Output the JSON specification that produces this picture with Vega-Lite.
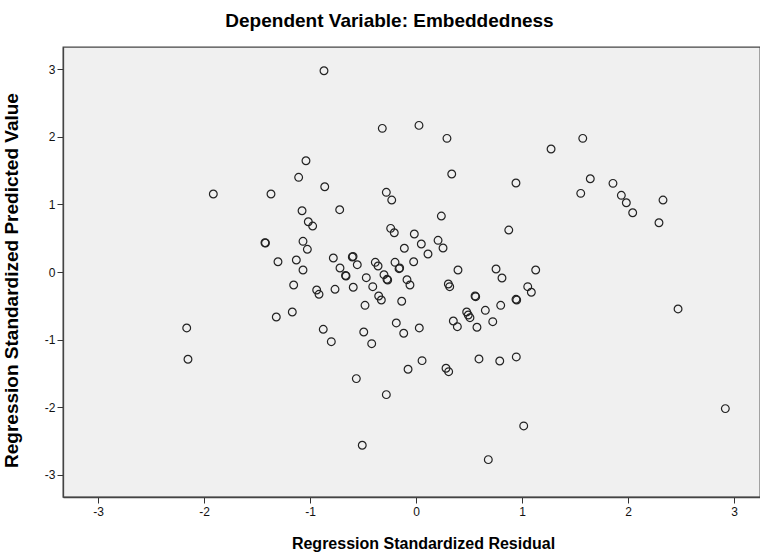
{
  "$schema": "https://vega.github.io/schema/vega-lite/v6.json",
  "autosize": "none",
  "padding": {"left": 63, "top": 47, "right": 0, "bottom": 62},
  "width": 697,
  "height": 450,
  "background": "white",
  "title": {
    "text": "Dependent Variable: Embeddedness",
    "font": "Liberation Sans",
    "fontSize": 19,
    "fontWeight": "bold",
    "color": "#000000",
    "anchor": "middle",
    "dx": -22,
    "offset": 16
  },
  "config": {
    "view": {"fill": "#F0F0F0", "stroke": "#444444", "strokeWidth": 1.3},
    "axis": {
      "grid": false,
      "labelFont": "Liberation Sans",
      "labelFontSize": 12,
      "labelColor": "#111111",
      "titleFont": "Liberation Sans",
      "titleFontSize": 19,
      "titleFontWeight": "bold",
      "titleColor": "#000000",
      "tickColor": "#333333",
      "tickSize": 6,
      "domainColor": "#444444",
      "domainWidth": 1.3,
      "labelExpr": "datum.value < 0 ? '-' + abs(datum.value) : '' + datum.value"
    }
  },
  "data": {
    "values": [
      {"resid": -1.038, "pred": 1.646},
      {"resid": -1.107, "pred": 1.401},
      {"resid": -0.868, "pred": 2.978},
      {"resid": -0.318, "pred": 2.126},
      {"resid": 0.028, "pred": 2.170},
      {"resid": 0.292, "pred": 1.978},
      {"resid": 1.274, "pred": 1.820},
      {"resid": 0.337, "pred": 1.450},
      {"resid": 0.943, "pred": 1.317},
      {"resid": -0.861, "pred": 1.262},
      {"resid": -0.280, "pred": 1.179},
      {"resid": -0.229, "pred": 1.065},
      {"resid": 1.573, "pred": 1.978},
      {"resid": 1.644, "pred": 1.380},
      {"resid": 1.858, "pred": 1.312},
      {"resid": 1.554, "pred": 1.164},
      {"resid": -1.912, "pred": 1.154},
      {"resid": -1.368, "pred": 1.154},
      {"resid": -1.075, "pred": 0.907},
      {"resid": -1.016, "pred": 0.744},
      {"resid": -0.975, "pred": 0.680},
      {"resid": -1.425, "pred": 0.433},
      {"resid": -1.420, "pred": 0.429},
      {"resid": -1.066, "pred": 0.454},
      {"resid": -1.025, "pred": 0.336},
      {"resid": -1.302, "pred": 0.152},
      {"resid": -1.129, "pred": 0.178},
      {"resid": -1.066, "pred": 0.030},
      {"resid": -1.154, "pred": -0.192},
      {"resid": -1.167, "pred": -0.592},
      {"resid": -1.318, "pred": -0.666},
      {"resid": -2.163, "pred": -0.828},
      {"resid": -2.151, "pred": -1.291},
      {"resid": -0.720, "pred": 0.922},
      {"resid": 0.239, "pred": 0.828},
      {"resid": 0.875, "pred": 0.621},
      {"resid": -0.239, "pred": 0.646},
      {"resid": -0.205, "pred": 0.581},
      {"resid": -0.016, "pred": 0.562},
      {"resid": 0.050, "pred": 0.414},
      {"resid": 0.208, "pred": 0.469},
      {"resid": 0.255, "pred": 0.355},
      {"resid": -0.110, "pred": 0.351},
      {"resid": 0.113, "pred": 0.266},
      {"resid": -0.780, "pred": 0.207},
      {"resid": -0.601, "pred": 0.222},
      {"resid": -0.594, "pred": 0.229},
      {"resid": -0.554, "pred": 0.108},
      {"resid": -0.384, "pred": 0.143},
      {"resid": -0.358, "pred": 0.089},
      {"resid": -0.198, "pred": 0.143},
      {"resid": -0.160, "pred": 0.049},
      {"resid": -0.154, "pred": 0.059},
      {"resid": -0.022, "pred": 0.152},
      {"resid": -0.717, "pred": 0.059},
      {"resid": -0.660, "pred": -0.059},
      {"resid": -0.665, "pred": -0.052},
      {"resid": 0.396, "pred": 0.030},
      {"resid": 0.755, "pred": 0.044},
      {"resid": 0.811, "pred": -0.089},
      {"resid": 1.129, "pred": 0.030},
      {"resid": -0.469, "pred": -0.084},
      {"resid": -0.302, "pred": -0.040},
      {"resid": -0.267, "pred": -0.118},
      {"resid": -0.274, "pred": -0.108},
      {"resid": -0.085, "pred": -0.114},
      {"resid": -0.057, "pred": -0.192},
      {"resid": -0.408, "pred": -0.217},
      {"resid": -0.592, "pred": -0.226},
      {"resid": -0.764, "pred": -0.256},
      {"resid": -0.937, "pred": -0.266},
      {"resid": -0.915, "pred": -0.330},
      {"resid": 0.305, "pred": -0.178},
      {"resid": 0.318, "pred": -0.217},
      {"resid": 1.054, "pred": -0.217},
      {"resid": 1.088, "pred": -0.300},
      {"resid": 0.563, "pred": -0.365},
      {"resid": 0.557, "pred": -0.355},
      {"resid": 0.950, "pred": -0.414},
      {"resid": 0.943, "pred": -0.404},
      {"resid": -0.352, "pred": -0.355},
      {"resid": -0.327, "pred": -0.414},
      {"resid": -0.135, "pred": -0.433},
      {"resid": -0.481, "pred": -0.493},
      {"resid": 0.799, "pred": -0.493},
      {"resid": 0.654, "pred": -0.567},
      {"resid": 0.478, "pred": -0.592},
      {"resid": 0.493, "pred": -0.636},
      {"resid": 0.509, "pred": -0.676},
      {"resid": 0.352, "pred": -0.725},
      {"resid": 0.390, "pred": -0.809},
      {"resid": 0.575, "pred": -0.818},
      {"resid": 0.724, "pred": -0.735},
      {"resid": -0.186, "pred": -0.754},
      {"resid": -0.116, "pred": -0.907},
      {"resid": 0.031, "pred": -0.828},
      {"resid": -0.875, "pred": -0.848},
      {"resid": -0.493, "pred": -0.888},
      {"resid": -0.799, "pred": -1.031},
      {"resid": -0.418, "pred": -1.061},
      {"resid": 0.057, "pred": -1.312},
      {"resid": -0.075, "pred": -1.439},
      {"resid": 0.283, "pred": -1.425},
      {"resid": 0.308, "pred": -1.475},
      {"resid": 0.594, "pred": -1.287},
      {"resid": 0.790, "pred": -1.317},
      {"resid": 0.946, "pred": -1.257},
      {"resid": -0.563, "pred": -1.578},
      {"resid": -0.280, "pred": -1.815},
      {"resid": 1.016, "pred": -2.278},
      {"resid": -0.507, "pred": -2.564},
      {"resid": 0.682, "pred": -2.777},
      {"resid": 1.937, "pred": 1.135},
      {"resid": 1.984, "pred": 1.025},
      {"resid": 2.044, "pred": 0.877},
      {"resid": 2.330, "pred": 1.065},
      {"resid": 2.292, "pred": 0.729},
      {"resid": 2.472, "pred": -0.547},
      {"resid": 2.918, "pred": -2.022}
    ]
  },
  "mark": {"type": "point", "shape": "circle", "filled": false, "size": 60, "stroke": "#222222", "strokeWidth": 1.2, "opacity": 1, "clip": true},
  "encoding": {
    "x": {
      "field": "resid",
      "type": "quantitative",
      "scale": {"domain": [-3.33, 3.245], "nice": false, "zero": false},
      "axis": {"values": [-3, -2, -1, 0, 1, 2, 3], "title": "Regression Standardized Residual", "titleFontSize": 16, "titleBaseline": "middle", "titleY": 46, "titleX": 360, "labelPadding": 3}
    },
    "y": {
      "field": "pred",
      "type": "quantitative",
      "scale": {"domain": [-3.33, 3.33], "nice": false, "zero": false},
      "axis": {"values": [-3, -2, -1, 0, 1, 2, 3], "title": "Regression Standardized Predicted Value", "titleX": -42, "titleY": 233, "labelPadding": 2}
    }
  }
}
